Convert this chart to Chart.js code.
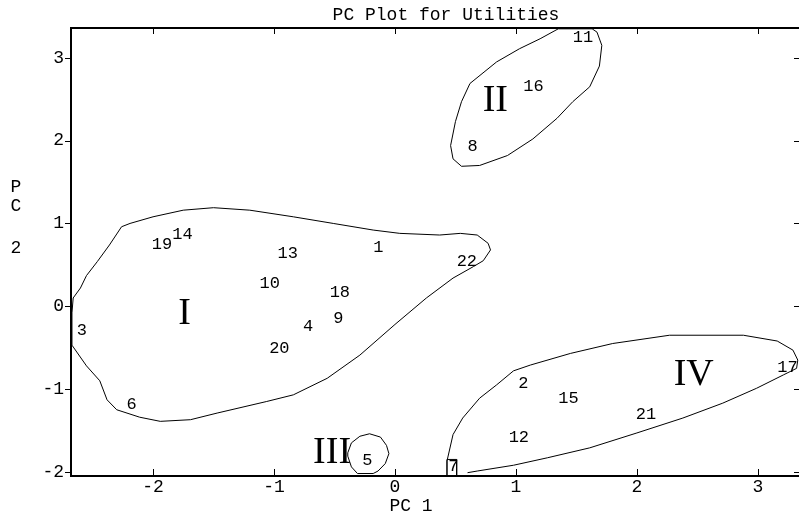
<!DOCTYPE html>
<html>
<head>
<meta charset="utf-8">
<title>PC Plot for Utilities</title>
<script src="https://cdn.jsdelivr.net/npm/chart.js@4.4.1/dist/chart.umd.min.js"></script>
<style>
  html, body { margin: 0; padding: 0; background: #fff; overflow: hidden; }
  #wrap { position: relative; width: 799px; height: 517px; }
</style>
</head>
<body>
<div id="wrap"><canvas id="pcChart"></canvas></div>
<script>
// utility ids with their scores on PC 1 / PC 2 (label anchors, MATLAB style)
var utilityIds = ['1', '2', '3', '4', '5', '6', '7', '8', '9', '10', '11',
                  '12', '13', '14', '15', '16', '17', '18', '19', '20', '21', '22'];
var pc1Scores = [-0.18, 1.02, -2.63, -0.76, -0.27, -2.22, 0.44, 0.60, -0.51, -1.12, 1.47,
                 0.94, -0.97, -1.84, 1.35, 1.06, 3.16, -0.54, -2.01, -1.04, 1.99, 0.51];
var pc2Scores = [0.71, -0.93, -0.29, -0.24, -1.86, -1.19, -1.93, 1.93, -0.15, 0.27, 3.25,
                 -1.59, 0.64, 0.87, -1.12, 2.65, -0.74, 0.17, 0.74, -0.51, -1.31, 0.54];

// cluster names and where they are written
var clusterNames = ['I', 'II', 'III', 'IV'];
var clusterPc1 = [-1.74, 0.83, -0.52, 2.47];
var clusterPc2 = [-0.06, 2.51, -1.73, -0.80];

// hand drawn cluster outlines (data units)
var outline1X = [-2.67, -2.67, -2.66, -2.60, -2.55, -2.46, -2.36, -2.26, -2.19, -2.00, -1.75, -1.50,
                 -1.20, -0.84, -0.51, -0.18, 0.04, 0.37, 0.54, 0.68, 0.77, 0.79, 0.73, 0.65, 0.48,
                 0.26, 0.00, -0.29, -0.56, -0.84, -1.06, -1.47, -1.69, -1.94, -2.11, -2.30, -2.38,
                 -2.44, -2.55, -2.67];
var outline1Y = [-0.47, -0.08, 0.10, 0.22, 0.37, 0.54, 0.74, 0.96, 1.00, 1.08, 1.16, 1.19,
                 1.16, 1.08, 1.00, 0.92, 0.88, 0.86, 0.88, 0.86, 0.76, 0.68, 0.55, 0.48, 0.34,
                 0.10, -0.22, -0.59, -0.87, -1.07, -1.15, -1.29, -1.37, -1.39, -1.34, -1.25, -1.13,
                 -0.90, -0.72, -0.47];
var outline2X = [1.35, 1.20, 1.03, 0.84, 0.62, 0.55, 0.50, 0.46, 0.48, 0.55, 0.70, 0.93,
                 1.14, 1.34, 1.47, 1.61, 1.69, 1.71, 1.67, 1.63, 1.35];
var outline2Y = [3.35, 3.23, 3.11, 2.95, 2.69, 2.47, 2.23, 1.94, 1.78, 1.69, 1.70, 1.82,
                 2.02, 2.27, 2.47, 2.65, 2.90, 3.15, 3.31, 3.35, 3.35];
var outline3X = [-0.39, -0.36, -0.29, -0.21, -0.12, -0.07, -0.05, -0.08, -0.14, -0.18, -0.31,
                 -0.36, -0.39, -0.39];
var outline3Y = [-1.77, -1.65, -1.57, -1.54, -1.58, -1.68, -1.78, -1.90, -1.99, -2.02, -2.02,
                 -1.94, -1.81, -1.77];
var outline4X = [0.43, 0.43, 0.48, 0.56, 0.70, 0.84, 0.98, 1.12, 1.45, 1.80, 2.27, 2.88,
                 3.16, 3.29, 3.33, 3.32, 3.21, 2.99, 2.71, 2.38, 2.00, 1.61, 1.26, 0.98, 0.68, 0.60];
var outline4Y = [-2.04, -1.87, -1.55, -1.35, -1.11, -0.95, -0.78, -0.71, -0.57, -0.45, -0.35, -0.35,
                 -0.42, -0.53, -0.65, -0.75, -0.83, -0.99, -1.17, -1.35, -1.53, -1.71, -1.83, -1.92,
                 -1.99, -2.01];
// little box drawn round label 7
var boxX = [0.43, 0.43, 0.51, 0.51];
var boxY = [-2.04, -1.85, -1.85, -2.04];

var xTickValues = [-2, -1, 0, 1, 2, 3];
var yTickValues = [-2, -1, 0, 1, 2, 3];
var xRange = [-2.678, 3.34];
var yRange = [-2.05, 3.36];

var MONO = '"Liberation Mono", "DejaVu Sans Mono", monospace';
var SERIF = '"Liberation Serif", "DejaVu Serif", serif';

function toPoints(xs, ys) {
    return xs.map(function(x, i) { return { x: x, y: ys[i] }; });
}

function outlineDataset(xs, ys) {
    return {
        type: 'scatter',
        data: toPoints(xs, ys),
        showLine: true,
        borderColor: '#000',
        borderWidth: 1,
        pointRadius: 0,
        tension: 0,
        fill: false,
        clip: false
    };
}

// frame, tick marks, point labels, roman numerals and axis texts
var annotatePlugin = {
    id: 'annotate',
    afterDatasetsDraw: function(chart) {
        var ctx = chart.ctx;
        var xs = chart.scales.x, ys = chart.scales.y;
        var a = chart.chartArea;
        ctx.save();

        ctx.strokeStyle = '#000';
        ctx.lineWidth = 2;
        ctx.beginPath();
        ctx.moveTo(a.right + 2, a.top);
        ctx.lineTo(a.left, a.top);
        ctx.lineTo(a.left, a.bottom);
        ctx.lineTo(a.right + 2, a.bottom);
        ctx.stroke();

        ctx.lineWidth = 1;
        ctx.beginPath();
        xTickValues.forEach(function(v) {
            var px = Math.round(xs.getPixelForValue(v)) + 0.5;
            ctx.moveTo(px, a.bottom);
            ctx.lineTo(px, a.bottom - 7);
            ctx.moveTo(px, a.top);
            ctx.lineTo(px, a.top + 6);
        });
        yTickValues.forEach(function(v) {
            var py = Math.round(ys.getPixelForValue(v)) + 0.5;
            ctx.moveTo(a.left - 6, py);
            ctx.lineTo(a.left, py);
            ctx.moveTo(a.right - 5, py);
            ctx.lineTo(a.right, py);
        });
        ctx.stroke();

        ctx.fillStyle = '#000';
        ctx.font = '17px ' + MONO;
        ctx.textAlign = 'left';
        ctx.textBaseline = 'middle';
        utilityIds.forEach(function(id, i) {
            ctx.fillText(id, xs.getPixelForValue(pc1Scores[i]), ys.getPixelForValue(pc2Scores[i]));
        });

        ctx.font = '38px ' + SERIF;
        ctx.textAlign = 'center';
        ctx.textBaseline = 'alphabetic';
        clusterNames.forEach(function(name, i) {
            ctx.fillText(name, xs.getPixelForValue(clusterPc1[i]), ys.getPixelForValue(clusterPc2[i]) + 13);
        });

        ctx.font = '18px ' + MONO;
        ctx.textBaseline = 'middle';
        ctx.fillText('PC Plot for Utilities', 446, 15);
        ctx.fillText('PC 1', 411, 506);
        ctx.fillText('P', 16, 187);
        ctx.fillText('C', 16, 206);
        ctx.fillText('2', 16, 248);
        ctx.restore();
    }
};

new Chart(document.getElementById('pcChart').getContext('2d'), {
    type: 'scatter',
    data: {
        datasets: [
            outlineDataset(outline1X, outline1Y),
            outlineDataset(outline2X, outline2Y),
            outlineDataset(outline3X, outline3Y),
            outlineDataset(outline4X, outline4Y),
            outlineDataset(boxX, boxY),
            {
                type: 'scatter',
                data: toPoints(pc1Scores, pc2Scores),
                pointRadius: 0
            }
        ]
    },
    options: {
        responsive: true,
        maintainAspectRatio: false,
        animation: false,
        events: [],
        layout: { padding: { top: 28, right: 0, left: 0, bottom: 0 } },
        plugins: {
            legend: { display: false },
            title: { display: false },
            tooltip: { enabled: false }
        },
        scales: {
            x: {
                type: 'linear',
                min: xRange[0],
                max: xRange[1],
                afterBuildTicks: function(scale) {
                    scale.ticks = xTickValues.map(function(v) { return { value: v }; });
                },
                afterFit: function(scale) { scale.height = 41; },
                grid: { display: false },
                border: { display: false },
                ticks: {
                    color: '#000',
                    padding: -8,
                    maxRotation: 0,
                    font: { size: 18, family: MONO }
                }
            },
            y: {
                type: 'linear',
                min: yRange[0],
                max: yRange[1],
                afterBuildTicks: function(scale) {
                    scale.ticks = yTickValues.map(function(v) { return { value: v }; });
                },
                afterFit: function(scale) { scale.width = 71; },
                grid: { display: false },
                border: { display: false },
                ticks: {
                    color: '#000',
                    padding: -1,
                    font: { size: 18, family: MONO }
                }
            }
        }
    },
    plugins: [annotatePlugin]
});
</script>
</body>
</html>
